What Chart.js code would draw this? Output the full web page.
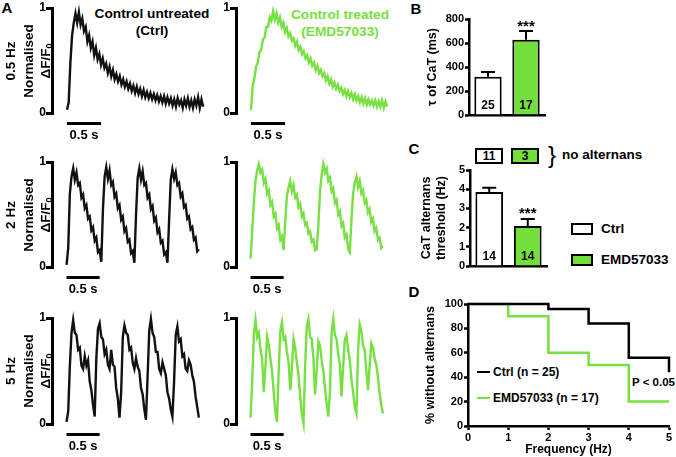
<!DOCTYPE html>
<html>
<head>
<meta charset="utf-8">
<script src="https://cdn.jsdelivr.net/npm/chart.js@4.4.1/dist/chart.umd.min.js"></script>
<style>
  body { margin: 0; background: #fff; }
  #fig { position: relative; width: 676px; height: 457px; overflow: hidden;
         font-family: 'Liberation Sans', Arial, Helvetica, sans-serif; font-weight: bold; color: #000; }
  #fig canvas { position: absolute; }
  .t { position: absolute; white-space: nowrap; line-height: 1; transform: translate(-50%, -50%); }
  .l { position: absolute; white-space: nowrap; line-height: 1; transform: translate(0, -50%); }
  .r { position: absolute; white-space: nowrap; line-height: 1; font-size: 13.5px;
       transform: translate(-50%, -50%) rotate(-90deg); }
  .r sub { font-size: 9px; vertical-align: -2px; }
  .box { position: absolute; box-sizing: border-box; border: 2px solid #000; display: flex;
         align-items: center; justify-content: center; font-size: 12px; line-height: 1; }
  .sw { position: absolute; }
  .ax { position: absolute; background: #000; }
</style>
</head>
<body>
<div id="fig">
  <div class="t" style="left:7px;top:7px;font-size:15px">A</div>
  <div class="t" style="left:416px;top:8px;font-size:15px">B</div>
  <div class="t" style="left:414px;top:148px;font-size:15px">C</div>
  <div class="t" style="left:414px;top:291px;font-size:15px">D</div>

  <div class="t" style="left:152px;top:14px;font-size:13.7px">Control untreated</div>
  <div class="t" style="left:152px;top:31px;font-size:13.7px">(Ctrl)</div>
  <div class="t" style="left:340px;top:15px;font-size:13.7px;color:#77e042">Control treated</div>
  <div class="t" style="left:340px;top:32px;font-size:13.7px;color:#77e042">(EMD57033)</div>

  <div class="t" style="left:552px;top:155px;font-size:24px;font-weight:normal">}</div>
  <div class="l" style="left:562px;top:155px;font-size:13.5px">no alternans</div>

  <div id="legC"></div>
  <div id="legD"></div>
  <div class="l" style="left:632px;top:383px;font-size:11.5px">P &lt; 0.05</div>
</div>

<script>
const FONT = "'Liberation Sans', Arial, Helvetica, sans-serif";
const GREEN = '#77e042';
const GREEN_BAR = '#72df3c';
const DARK = '#3c3c3c';
const LIGHT = '#c2c2c2';

// ---- Panel A: normalised CaT traces, one sample every DT seconds ----
const DT = 0.025;
const rowHz = ['0.5 Hz', '2 Hz', '5 Hz'];
const ctrl05 = [0.03,0.10,0.48,0.74,0.86,0.95,0.86,0.96,0.84,0.90,
  0.78,0.82,0.68,0.74,0.62,0.68,0.55,0.62,0.51,0.56,
  0.46,0.52,0.43,0.47,0.38,0.44,0.35,0.41,0.32,0.37,
  0.30,0.35,0.27,0.32,0.25,0.30,0.23,0.28,0.21,0.26,
  0.19,0.25,0.18,0.23,0.16,0.22,0.15,0.20,0.14,0.19,
  0.13,0.18,0.12,0.17,0.11,0.16,0.10,0.16,0.09,0.15,
  0.09,0.14,0.07,0.13,0.06,0.14,0.08,0.12,0.05,0.13,
  0.07,0.14,0.06,0.12,0.05,0.13,0.07,0.15,0.05,0.13,
  0.06];
const emd05 = [0.03,0.25,0.33,0.44,0.48,0.58,0.60,0.70,0.72,0.82,
  0.82,0.91,0.88,0.97,0.89,0.95,0.86,0.91,0.82,0.86,
  0.77,0.81,0.73,0.76,0.69,0.71,0.64,0.68,0.60,0.63,
  0.56,0.59,0.52,0.55,0.48,0.52,0.45,0.48,0.41,0.45,
  0.38,0.41,0.35,0.38,0.31,0.35,0.28,0.32,0.25,0.29,
  0.23,0.27,0.21,0.24,0.18,0.22,0.16,0.21,0.15,0.19,
  0.13,0.18,0.12,0.16,0.10,0.15,0.09,0.14,0.08,0.13,
  0.08,0.12,0.07,0.12,0.06,0.11,0.06,0.12,0.05,0.11,
  0.06];
const ctrl2 = [0.02,0.18,0.70,0.86,0.94,0.83,0.90,0.78,0.80,0.66,
  0.69,0.56,0.59,0.46,0.48,0.35,0.38,0.25,0.28,0.14,
  0.16,0.05,0.55,0.86,0.95,0.84,0.92,0.78,0.81,0.67,
  0.70,0.56,0.59,0.45,0.48,0.34,0.37,0.24,0.26,0.13,
  0.15,0.04,0.50,0.85,0.94,0.83,0.91,0.78,0.80,0.66,
  0.69,0.55,0.58,0.44,0.47,0.33,0.36,0.23,0.25,0.12,
  0.14,0.04,0.45,0.83,0.93,0.84,0.90,0.78,0.80,0.67,
  0.70,0.57,0.59,0.46,0.48,0.36,0.38,0.26,0.28,0.15,
  0.17];
const emd2 = [0.08,0.35,0.62,0.82,0.92,0.98,0.90,0.93,0.80,0.84,
  0.70,0.73,0.59,0.62,0.48,0.51,0.37,0.40,0.26,0.29,
  0.16,0.45,0.68,0.76,0.82,0.72,0.78,0.66,0.69,0.57,
  0.60,0.48,0.51,0.40,0.42,0.32,0.34,0.24,0.26,0.16,
  0.17,0.40,0.72,0.88,0.98,0.90,0.94,0.82,0.85,0.72,
  0.75,0.61,0.64,0.50,0.53,0.39,0.42,0.28,0.31,0.17,
  0.14,0.45,0.70,0.80,0.86,0.76,0.82,0.70,0.73,0.61,
  0.64,0.52,0.55,0.43,0.46,0.34,0.37,0.26,0.28,0.18,
  0.20];
const ctrl5 = [0.02,0.12,0.55,0.86,0.98,0.86,0.84,0.70,0.72,0.55,
  0.52,0.64,0.55,0.60,0.40,0.32,0.18,0.07,0.62,0.90,
  0.95,0.82,0.80,0.66,0.70,0.56,0.52,0.70,0.56,0.54,
  0.34,0.24,0.06,0.30,0.82,0.93,0.86,0.84,0.70,0.72,
  0.58,0.52,0.62,0.54,0.50,0.34,0.28,0.14,0.04,0.45,
  0.88,0.99,0.86,0.82,0.68,0.68,0.52,0.48,0.58,0.52,
  0.46,0.30,0.24,0.14,0.07,0.40,0.84,0.92,0.78,0.80,
  0.64,0.66,0.52,0.50,0.60,0.56,0.46,0.40,0.26,0.16,
  0.06];
const emd5 = [0.06,0.40,0.85,0.98,0.82,0.86,0.70,0.62,0.30,0.55,
  0.82,0.74,0.62,0.50,0.30,0.12,0.02,0.50,0.88,0.96,
  0.80,0.82,0.68,0.58,0.32,0.52,0.80,0.72,0.58,0.46,
  0.26,0.10,0.01,0.55,0.92,0.99,0.82,0.80,0.62,0.28,
  0.50,0.78,0.74,0.60,0.50,0.34,0.20,0.07,0.30,0.86,
  0.99,0.84,0.80,0.66,0.56,0.26,0.55,0.80,0.84,0.70,
  0.60,0.42,0.30,0.16,0.10,0.70,0.94,0.88,0.74,0.70,
  0.50,0.32,0.55,0.76,0.72,0.62,0.56,0.44,0.30,0.18,
  0.10];

// stimulation arrowheads (s); shade 1 = dark, 0 = light
const stim2Ctrl = [0.03, 0.53, 1.03, 1.53];
const shade2Ctrl = [1, 1, 1, 1];
const stim2Emd = [0.01, 0.51, 1.01, 1.51];
const shade2Emd = [1, 0, 1, 0];
const stim5Ctrl = [0.04, 0.24, 0.44, 0.64, 0.84, 1.04, 1.24, 1.44, 1.64, 1.84];
const stim5Emd = [0.03, 0.22, 0.43, 0.62, 0.82, 1.03, 1.22, 1.42, 1.62, 1.81];
const shade5 = [1, 0, 1, 0, 1, 0, 1, 0, 1, 0];

const scaleBarSec = [0, 0.5];

// ---- Panels B and C ----
const groups = ['Ctrl', 'EMD57033'];
const tauMean = [318, 628];
const tauSem = [40, 72];
const tauN = [25, 17];
const tauStars = ['', '***'];
const altMean = [3.85, 2.08];
const altSem = [0.22, 0.37];
const altN = [14, 14];
const altStars = ['', '***'];
const noAlternans = [11, 3];

// ---- Panel D ----
const freqHz = [0, 1, 2, 3, 4, 5];
const ctrlSurv = [100, 100, 96, 84, 56, 44];
const emdSurv = [100, 90, 60, 50, 20, 20];

Chart.defaults.font.family = FONT;
Chart.defaults.font.weight = 'bold';
Chart.defaults.color = '#000';

const fig = document.getElementById('fig');
function makeCanvas(left, top, w, h) {
  const c = document.createElement('canvas');
  c.width = w; c.height = h;
  c.style.left = left + 'px'; c.style.top = top + 'px';
  c.style.width = w + 'px'; c.style.height = h + 'px';
  fig.appendChild(c);
  return c;
}

const scaleBarPlugin = {
  id: 'scaleBar',
  afterDraw(chart) {
    const { ctx, chartArea } = chart;
    const x = chart.scales.x;
    const x0 = x.getPixelForValue(scaleBarSec[0]);
    const x1 = x.getPixelForValue(scaleBarSec[1]);
    ctx.save();
    ctx.strokeStyle = '#000';
    ctx.lineWidth = 3;
    ctx.beginPath();
    ctx.moveTo(x0, chartArea.bottom + 10.5);
    ctx.lineTo(x1, chartArea.bottom + 10.5);
    ctx.stroke();
    ctx.fillStyle = '#000';
    ctx.font = 'bold 13px ' + FONT;
    ctx.textAlign = 'center';
    ctx.textBaseline = 'middle';
    ctx.fillText('0.5 s', (x0 + x1) / 2, chartArea.bottom + 22);
    ctx.restore();
  }
};

// the screenshot sometimes drops the left axis stroke of the trace canvases,
// so repeat it as page elements placed from the chart's own y scale
function axisOverlay(chart, canvasLeft, canvasTop) {
  const y = chart.scales.y;
  const ax = canvasLeft + y.right;
  const yTop = canvasTop + y.getPixelForValue(y.max);
  const yBot = canvasTop + y.getPixelForValue(y.min);
  const add = (l, t, w, h) => {
    const d = document.createElement('div');
    d.className = 'ax';
    d.style.cssText = `left:${l}px;top:${t}px;width:${w}px;height:${h}px`;
    fig.appendChild(d);
  };
  add(ax - 1.5, yTop - 1.5, 3, yBot - yTop + 3);
  y.ticks.forEach(tk => add(ax - 6, canvasTop + y.getPixelForValue(tk.value) - 1.5, 5, 3));
}

const PAD_T = 18, PAD_B = 33, AXIS_W = 20;
// axisX = pixel of the vertical axis line
function traceChart(axisX, top, bottom, values, color, stim, shade, stimY) {
  const left = axisX - AXIS_W, ctop = top - PAD_T;
  const canvas = makeCanvas(left, ctop, AXIS_W + 158, bottom - top + PAD_T + PAD_B);
  const datasets = [{
    data: values.map((v, i) => ({ x: i * DT, y: v })),
    borderColor: color, borderWidth: 2.4, pointRadius: 0, tension: 0, clip: false
  }];
  if (stim) {
    datasets.push({
      data: stim.map(t => ({ x: t, y: stimY })),
      showLine: false, pointStyle: 'triangle', rotation: 180, pointRadius: 4.5,
      pointBackgroundColor: shade.map(s => s ? DARK : LIGHT),
      pointBorderWidth: 0, clip: false
    });
  }
  const chart = new Chart(canvas, {
    type: 'line',
    data: { datasets },
    options: {
      responsive: false, animation: false, events: [],
      layout: { padding: { left: 0, right: 0, top: PAD_T, bottom: PAD_B } },
      plugins: { legend: { display: false }, tooltip: { enabled: false } },
      scales: {
        x: { type: 'linear', display: false, min: -0.22, max: 2.1 },
        y: {
          min: 0, max: 1,
          afterFit: s => { s.width = AXIS_W; },
          ticks: { stepSize: 1, padding: 1, font: { size: 12, weight: 'bold' } },
          grid: { drawOnChartArea: false, tickLength: 5, tickWidth: 3, tickColor: '#000' },
          border: { width: 3, color: '#000' }
        }
      }
    },
    plugins: [scaleBarPlugin]
  });
  axisOverlay(chart, left, ctop);
  return chart;
}

const rowTop = [8, 162, 318];
const rowBottom = [113, 267, 424];
traceChart(52, rowTop[0], rowBottom[0], ctrl05, '#111', null, null, 0);
traceChart(236, rowTop[0], rowBottom[0], emd05, GREEN, null, null, 0);
traceChart(52, rowTop[1], rowBottom[1], ctrl2, '#111', stim2Ctrl, shade2Ctrl, 1.067);
traceChart(236, rowTop[1], rowBottom[1], emd2, GREEN, stim2Emd, shade2Emd, 1.067);
traceChart(52, rowTop[2], rowBottom[2], ctrl5, '#111', stim5Ctrl, shade5, 1.10);
traceChart(236, rowTop[2], rowBottom[2], emd5, GREEN, stim5Emd, shade5, 1.10);

// row labels (rotated)
rowHz.forEach((hz, r) => {
  const cy = (rowTop[r] + rowBottom[r]) / 2;
  [[11, hz], [28.5, 'Normalised'], [46, 'ΔF/F<sub>0</sub>']].forEach(([x, txt]) => {
    const d = document.createElement('div');
    d.className = 'r';
    d.style.left = x + 'px';
    d.style.top = cy + 'px';
    d.innerHTML = txt;
    fig.appendChild(d);
  });
});

// ---- bar charts with SEM, n and significance ----
const barExtras = {
  id: 'barExtras',
  afterDatasetsDraw(chart) {
    const { ctx, chartArea } = chart;
    const y = chart.scales.y;
    const ds = chart.data.datasets[0];
    chart.getDatasetMeta(0).data.forEach((bar, i) => {
      const top = y.getPixelForValue(ds.data[i] + ds.sem[i]);
      ctx.save();
      ctx.strokeStyle = '#000';
      ctx.lineWidth = 2;
      ctx.beginPath();
      ctx.moveTo(bar.x, bar.y);
      ctx.lineTo(bar.x, top);
      ctx.moveTo(bar.x - 7, top);
      ctx.lineTo(bar.x + 7, top);
      ctx.stroke();
      ctx.fillStyle = '#000';
      ctx.textAlign = 'center';
      ctx.textBaseline = 'middle';
      ctx.font = 'bold 12px ' + FONT;
      ctx.fillText(String(ds.n[i]), bar.x, chartArea.bottom - 9.5);
      if (ds.stars[i]) {
        ctx.font = 'bold 15px ' + FONT;
        ctx.textBaseline = 'alphabetic';
        ctx.fillText(ds.stars[i], bar.x, top - 0.5);
      }
      ctx.restore();
    });
  }
};

function barChart(left, top, w, h, pad, axisW, mean, sem, n, stars, yMax, yStep, title, titlePad, titleLH) {
  const canvas = makeCanvas(left, top, w, h);
  return new Chart(canvas, {
    type: 'bar',
    data: {
      labels: groups,
      datasets: [{
        data: mean, sem: sem, n: n, stars: stars,
        backgroundColor: ['#ffffff', GREEN_BAR], borderColor: '#000', borderWidth: 2,
        barPercentage: 0.72, categoryPercentage: 1
      }]
    },
    options: {
      responsive: false, animation: false, events: [],
      layout: { padding: pad },
      plugins: { legend: { display: false }, tooltip: { enabled: false } },
      scales: {
        x: {
          afterFit: s => { s.height = 0; },
          ticks: { display: false }, grid: { display: false },
          border: { width: 2.5, color: '#000' }
        },
        y: {
          min: 0, max: yMax,
          afterFit: s => { s.width = axisW; },
          ticks: { stepSize: yStep, padding: 1, font: { size: 11, weight: 'bold' } },
          grid: { drawOnChartArea: false, tickLength: 4, tickWidth: 2.5, tickColor: '#000' },
          border: { width: 2.5, color: '#000' },
          title: {
            display: true, text: title, color: '#000',
            font: { size: 12.5, weight: 'bold', lineHeight: titleLH }, padding: { top: titlePad, bottom: 0 }
          }
        }
      }
    },
    plugins: [barExtras]
  });
}

barChart(420, 0, 128, 125, { left: 0, right: 3, top: 19, bottom: 10 }, 49,
  tauMean, tauSem, tauN, tauStars, 800, 200, 'τ of CaT (ms)', 5.5, 1.2);
barChart(414, 130, 136, 146, { left: 0, right: 3, top: 40, bottom: 10 }, 56,
  altMean, altSem, altN, altStars, 5, 1, ['CaT alternans', 'threshold (Hz)'], 5.8, 1.15);

// "no alternans" count boxes above panel C bars
const boxX = [475, 511];
noAlternans.forEach((v, i) => {
  const b = document.createElement('div');
  b.className = 'box';
  b.style.cssText = `left:${boxX[i]}px;top:148px;width:28px;height:16px;background:${i ? GREEN_BAR : '#fff'}`;
  b.textContent = v;
  fig.appendChild(b);
});

// panel C legend
const legC = document.getElementById('legC');
groups.forEach((g, i) => {
  const cy = [229, 260][i];
  const sw = document.createElement('div');
  sw.className = 'sw';
  sw.style.cssText = `left:571px;top:${cy - 6}px;width:22px;height:12px;box-sizing:border-box;border:2px solid #000;background:${i ? GREEN_BAR : '#fff'}`;
  legC.appendChild(sw);
  const t = document.createElement('div');
  t.className = 'l';
  t.style.cssText = `left:601px;top:${cy}px;font-size:13.5px`;
  t.textContent = g;
  legC.appendChild(t);
});

// ---- Panel D: survival without alternans ----
const cD = makeCanvas(414, 270, 262, 188);
new Chart(cD, {
  type: 'line',
  data: {
    datasets: [
      { label: 'Ctrl (n = 25)', data: freqHz.map((f, i) => ({ x: f, y: ctrlSurv[i] })),
        stepped: 'before', borderColor: '#000', borderWidth: 2.5, pointRadius: 0, clip: false },
      { label: 'EMD57033 (n = 17)', data: freqHz.map((f, i) => ({ x: f, y: emdSurv[i] })),
        stepped: 'before', borderColor: GREEN, borderWidth: 2.5, pointRadius: 0, clip: false }
    ]
  },
  options: {
    responsive: false, animation: false, events: [],
    layout: { padding: { left: 0, right: 7, top: 34, bottom: 0 } },
    plugins: { legend: { display: false }, tooltip: { enabled: false } },
    scales: {
      x: {
        type: 'linear', min: 0, max: 5,
        afterFit: s => { s.height = 32; },
        ticks: { stepSize: 1, padding: 1, font: { size: 11, weight: 'bold' } },
        grid: { drawOnChartArea: false, tickLength: 4, tickWidth: 2.5, tickColor: '#000' },
        border: { width: 2.5, color: '#000' },
        title: { display: true, text: 'Frequency (Hz)', color: '#000',
          font: { size: 12, weight: 'bold', lineHeight: 1.2 }, padding: { top: 0, bottom: 0.8 } }
      },
      y: {
        min: 0, max: 100,
        afterFit: s => { s.width = 54; },
        ticks: { stepSize: 20, padding: 1, font: { size: 11, weight: 'bold' } },
        grid: { drawOnChartArea: false, tickLength: 4, tickWidth: 2.5, tickColor: '#000' },
        border: { width: 2.5, color: '#000' },
        title: { display: true, text: '% without alternans', color: '#000',
          font: { size: 12.5, weight: 'bold', lineHeight: 1.2 }, padding: { top: 9.5, bottom: 0 } }
      }
    }
  }
});

// panel D legend, inside the plot
const legD = document.getElementById('legD');
[['Ctrl (n = 25)', '#000', 372], ['EMD57033 (n = 17)', GREEN, 398]].forEach(([txt, col, cy]) => {
  const ln = document.createElement('div');
  ln.className = 'sw';
  ln.style.cssText = `left:477px;top:${cy - 1.25}px;width:13px;height:2.5px;background:${col}`;
  legD.appendChild(ln);
  const t = document.createElement('div');
  t.className = 'l';
  t.style.cssText = `left:493px;top:${cy}px;font-size:12px`;
  t.textContent = txt;
  legD.appendChild(t);
});
</script>
</body>
</html>
